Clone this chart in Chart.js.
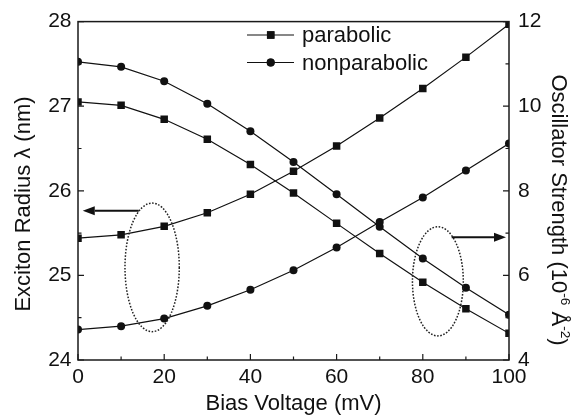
<!DOCTYPE html>
<html>
<head>
<meta charset="utf-8">
<script src="https://cdn.jsdelivr.net/npm/chart.js@4.4.1/dist/chart.umd.min.js"></script>
<style>
  html, body { margin: 0; padding: 0; background: #fff; }
  canvas { display: block; }
</style>
</head>
<body>
<canvas id="chart" width="576" height="420"></canvas>
<script>
// Bias voltage (mV)
const biasVoltage = [0, 10, 20, 30, 40, 50, 60, 70, 80, 90, 100];

// Exciton radius (nm), left axis
const radiusParabolic    = [25.44, 25.48, 25.58, 25.74, 25.96, 26.23, 26.53, 26.86, 27.21, 27.58, 27.97];
const radiusNonparabolic = [24.36, 24.40, 24.49, 24.64, 24.83, 25.06, 25.33, 25.63, 25.92, 26.24, 26.56];

// Oscillator strength (1e-6 Å^-2), right axis
const oscParabolic    = [10.10, 10.02, 9.69, 9.22, 8.62, 7.95, 7.23, 6.52, 5.84, 5.21, 4.63];
const oscNonparabolic = [11.05, 10.93, 10.59, 10.06, 9.41, 8.68, 7.92, 7.15, 6.40, 5.71, 5.07];

const seriesNames = ['parabolic', 'nonparabolic'];

// Axis ticks
const xMajorTicks = [0, 20, 40, 60, 80, 100];
const xMinorTicks = [10, 30, 50, 70, 90];
const radiusMajorTicks = [24, 25, 26, 27, 28];
const radiusMinorTicks = [24.5, 25.5, 26.5, 27.5];
const oscMajorTicks = [4, 6, 8, 10, 12];
const oscMinorTicks = [5, 7, 9, 11];

const INK = '#111';
const FONT = "'Liberation Sans', Arial, sans-serif";

const toPoints = (ys) => biasVoltage.map((x, i) => ({ x, y: ys[i] }));

function series(label, ys, axis, style) {
  return {
    label,
    data: toPoints(ys),
    yAxisID: axis,
    borderColor: INK,
    backgroundColor: INK,
    borderWidth: 1.2,
    pointStyle: style,
    pointRadius: style === 'rect' ? 5.3 : 4,
    pointHoverRadius: style === 'rect' ? 5.3 : 4,
    pointBorderWidth: 0,
    pointBackgroundColor: INK,
    tension: 0,
    fill: false,
    clip: 0
  };
}

// Frame, inward tick marks, grouping ellipses, arrows, legend and side titles
const decorations = {
  id: 'decorations',
  afterDatasetsDraw(chart) {
    const { ctx, chartArea: a, scales } = chart;
    const x = scales.x, yL = scales.yL, yR = scales.yR;
    ctx.save();

    // frame
    ctx.strokeStyle = '#1a1a1a';
    ctx.lineWidth = 1.5;
    ctx.strokeRect(a.left, a.top, a.right - a.left, a.bottom - a.top);

    // tick marks pointing into the plot
    ctx.lineWidth = 1.2;
    ctx.beginPath();
    const xt = (vals, len) => vals.forEach(v => {
      const p = x.getPixelForValue(v);
      ctx.moveTo(p, a.bottom); ctx.lineTo(p, a.bottom - len);
    });
    const lt = (vals, len) => vals.forEach(v => {
      const p = yL.getPixelForValue(v);
      ctx.moveTo(a.left, p); ctx.lineTo(a.left + len, p);
    });
    const rt = (vals, len) => vals.forEach(v => {
      const p = yR.getPixelForValue(v);
      ctx.moveTo(a.right, p); ctx.lineTo(a.right - len, p);
    });
    xt(xMajorTicks, 6); xt(xMinorTicks, 3.5);
    lt(radiusMajorTicks, 6); lt(radiusMinorTicks, 3.5);
    rt(oscMajorTicks, 6); rt(oscMinorTicks, 3.5);
    ctx.stroke();

    // dotted ellipses grouping the curves
    const ellipse = (cx, cy, dx, dy, ys) => {
      const px = x.getPixelForValue(cx), py = ys.getPixelForValue(cy);
      const rx = x.getPixelForValue(cx + dx) - px;
      const ry = ys.getPixelForValue(cy - dy) - py;
      ctx.beginPath();
      ctx.setLineDash([1.6, 1.6]);
      ctx.lineWidth = 1.5;
      ctx.strokeStyle = '#222';
      ctx.ellipse(px, py, rx, ry, 0, 0, Math.PI * 2);
      ctx.stroke();
      ctx.setLineDash([]);
    };
    ellipse(17.2, 25.095, 6.3, 0.76, yL);
    ellipse(83.5, 5.86, 5.9, 1.29, yR);

    // arrows pointing to the relevant axis
    const arrow = (x0, x1, v, ys) => {
      const p0 = x.getPixelForValue(x0), p1 = x.getPixelForValue(x1);
      const py = ys.getPixelForValue(v);
      const dir = Math.sign(p1 - p0);
      const head = 12, half = 4.5;
      ctx.strokeStyle = INK; ctx.fillStyle = INK; ctx.lineWidth = 2;
      ctx.beginPath();
      ctx.moveTo(p0, py); ctx.lineTo(p1 - dir * head, py);
      ctx.stroke();
      ctx.beginPath();
      ctx.moveTo(p1, py);
      ctx.lineTo(p1 - dir * head, py - half);
      ctx.lineTo(p1 - dir * head, py + half);
      ctx.closePath();
      ctx.fill();
    };
    arrow(14.1, 1.1, 25.765, yL);
    arrow(86.7, 99.3, 6.90, yR);

    // legend
    const legendRows = [35, 62.5];
    seriesNames.forEach((name, i) => {
      const ds = chart.data.datasets[i];
      const ly = legendRows[i];
      ctx.strokeStyle = ds.borderColor; ctx.lineWidth = ds.borderWidth;
      ctx.beginPath(); ctx.moveTo(247, ly); ctx.lineTo(294, ly); ctx.stroke();
      Chart.helpers.drawPoint(ctx, {
        pointStyle: ds.pointStyle, radius: ds.pointRadius, rotation: 0, borderWidth: 0
      }, 270.7, ly);
      ctx.fillStyle = ds.backgroundColor;
      ctx.fill();
      ctx.fillStyle = INK;
      ctx.font = `22px ${FONT}`;
      ctx.textAlign = 'left';
      ctx.textBaseline = 'middle';
      ctx.fillText(name, 302, ly + 1);
    });

    // side titles
    const richText = (parts, cx, cy, angle, size) => {
      ctx.save();
      ctx.translate(cx, cy);
      ctx.rotate(angle);
      ctx.fillStyle = INK;
      ctx.textAlign = 'left';
      ctx.textBaseline = 'alphabetic';
      const supSize = size * 0.62;
      let total = 0;
      parts.forEach(p => {
        ctx.font = `${p.sup ? supSize : size}px ${FONT}`;
        p.w = ctx.measureText(p.t).width;
        total += p.w;
      });
      let px = -total / 2;
      const base = size * 0.36;
      parts.forEach(p => {
        ctx.font = `${p.sup ? supSize : size}px ${FONT}`;
        ctx.fillText(p.t, px, p.sup ? base - size * 0.42 : base);
        px += p.w;
      });
      ctx.restore();
    };
    richText([{ t: 'Exciton Radius λ (nm)' }], 22, 204, -Math.PI / 2, 22);
    richText([
      { t: 'Oscillator Strength (10' }, { t: '-6', sup: true },
      { t: ' Å' }, { t: '-2', sup: true }, { t: ')' }
    ], 560, 210, Math.PI / 2, 22);

    ctx.restore();
  }
};

new Chart(document.getElementById('chart'), {
  type: 'line',
  data: {
    datasets: [
      series(seriesNames[0], radiusParabolic, 'yL', 'rect'),
      series(seriesNames[1], radiusNonparabolic, 'yL', 'circle'),
      series(seriesNames[0], oscParabolic, 'yR', 'rect'),
      series(seriesNames[1], oscNonparabolic, 'yR', 'circle')
    ]
  },
  options: {
    responsive: false,
    animation: false,
    events: [],
    layout: { padding: { top: 20, left: 0, right: 0, bottom: 0 } },
    plugins: { legend: { display: false }, tooltip: { enabled: false } },
    scales: {
      x: {
        type: 'linear',
        position: 'bottom',
        min: 0, max: 100,
        afterBuildTicks: s => { s.ticks = xMajorTicks.map(v => ({ value: v })); },
        afterFit: s => { s.height = 60; },
        grid: { display: false, drawTicks: false },
        border: { display: false },
        ticks: { color: INK, font: { family: FONT, size: 21 }, padding: 5, maxRotation: 0 },
        title: {
          display: true, text: 'Bias Voltage (mV)', color: INK,
          font: { family: FONT, size: 22 }, padding: { top: 0, bottom: 3 }
        }
      },
      yL: {
        type: 'linear',
        position: 'left',
        min: 24, max: 28,
        afterBuildTicks: s => { s.ticks = radiusMajorTicks.map(v => ({ value: v })); },
        afterFit: s => { s.width = 78; },
        grid: { display: false, drawTicks: false },
        border: { display: false },
        ticks: { color: INK, font: { family: FONT, size: 21 }, padding: 6.5 }
      },
      yR: {
        type: 'linear',
        position: 'right',
        min: 4, max: 12,
        afterBuildTicks: s => { s.ticks = oscMajorTicks.map(v => ({ value: v })); },
        afterFit: s => { s.width = 67; },
        grid: { display: false, drawTicks: false },
        border: { display: false },
        ticks: { color: INK, font: { family: FONT, size: 21 }, padding: 9 }
      }
    }
  },
  plugins: [decorations]
});
</script>
</body>
</html>
